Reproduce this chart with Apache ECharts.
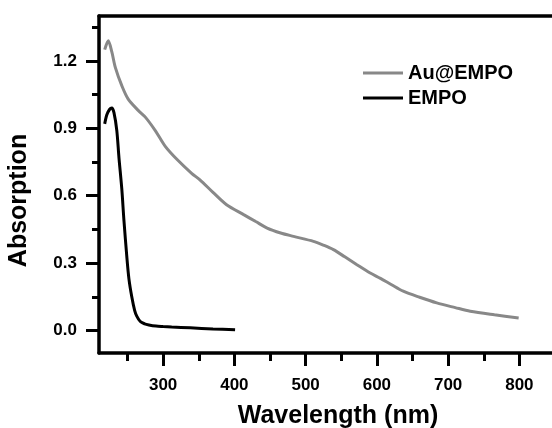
<!DOCTYPE html>
<html>
<head>
<meta charset="utf-8">
<script src="https://cdn.jsdelivr.net/npm/echarts@6/dist/echarts.min.js"></script>
<style>html,body{margin:0;padding:0;background:#fff}#c{width:552px;height:428px}</style>
</head>
<body>
<div id="c"></div>
<script>
var auWavelength = [218, 223, 228, 233, 242, 251, 265, 275, 289, 303, 320, 340, 352, 370, 389, 413, 430, 446, 465, 483, 511, 525, 539, 555, 572, 590, 605, 620, 637, 660, 684, 710, 731, 765, 799];
var auAbsorption = [1.25, 1.29, 1.24, 1.17, 1.09, 1.03, 0.98, 0.95, 0.89, 0.82, 0.76, 0.70, 0.67, 0.615, 0.56, 0.516, 0.485, 0.456, 0.434, 0.419, 0.397, 0.38, 0.36, 0.328, 0.293, 0.257, 0.232, 0.205, 0.175, 0.148, 0.123, 0.102, 0.086, 0.07, 0.056];
var empoWavelength = [218, 221, 225, 228, 231, 235, 238, 242, 245, 249, 252, 256, 260, 263, 268, 274, 280, 290, 300, 312, 338, 370, 401];
var empoAbsorption = [0.92, 0.96, 0.985, 0.99, 0.97, 0.89, 0.77, 0.63, 0.49, 0.33, 0.23, 0.15, 0.09, 0.064, 0.04, 0.03, 0.025, 0.02, 0.018, 0.016, 0.012, 0.007, 0.003];
var xMajorTicks = [300, 400, 500, 600, 700, 800];
var xMinorTicks = [250, 350, 450, 550, 650, 750];
var yMajorTicks = [0.0, 0.3, 0.6, 0.9, 1.2];
var yMinorTicks = [0.15, 0.45, 0.75, 1.05, 1.35];
var seriesNames = ['Au@EMPO', 'EMPO'];

function pairs(xs, ys) { return xs.map(function (x, i) { return [x, ys[i]]; }); }

var FONT = 'Liberation Sans, Arial, sans-serif';
var X_MIN = 210, X_MAX = 850, Y_MIN = -0.1, Y_MAX = 1.4;

var chart = echarts.init(document.getElementById('c'), null, {renderer: 'canvas'});
chart.setOption({
  animation: false,
  backgroundColor: '#fff',
  grid: {left: 99, top: 16, right: -3, bottom: 75, containLabel: false, outerBoundsMode: 'none'},
  legend: {
    data: [
      {name: seriesNames[0], icon: 'rect', itemStyle: {color: '#888888'}},
      {name: seriesNames[1], icon: 'rect', itemStyle: {color: '#000000'}}
    ],
    orient: 'vertical',
    left: 358, top: 58,
    itemWidth: 40, itemHeight: 3, itemGap: 5,
    textStyle: {fontFamily: FONT, fontWeight: 'bold', fontSize: 20, color: '#000'}
  },
  xAxis: [
    {
      type: 'value', min: X_MIN, max: X_MAX, position: 'bottom',
      name: 'Wavelength (nm)', nameLocation: 'middle', nameGap: 51,
      nameTextStyle: {fontFamily: FONT, fontWeight: 'bold', fontSize: 25, color: '#000', padding: [0, 0, 0, 22]},
      axisLine: {onZero: false, lineStyle: {color: '#000', width: 3.5}},
      axisTick: {show: true, inside: false, length: 13, customValues: xMajorTicks, lineStyle: {color: '#000', width: 3}},
      axisLabel: {customValues: xMajorTicks, margin: 24, fontFamily: FONT, fontWeight: 'bold', fontSize: 17, color: '#000'},
      splitLine: {show: false}
    },
    {
      type: 'value', min: X_MIN, max: X_MAX, position: 'top',
      axisLine: {show: true, onZero: false, lineStyle: {color: '#000', width: 3.5}},
      axisTick: {show: false}, axisLabel: {show: false}, splitLine: {show: false}
    },
    {
      type: 'value', min: X_MIN, max: X_MAX, position: 'bottom',
      axisLine: {show: false, onZero: false},
      axisTick: {show: true, inside: false, length: 8, customValues: xMinorTicks, lineStyle: {color: '#000', width: 3}},
      axisLabel: {show: false}, splitLine: {show: false}
    }
  ],
  yAxis: [
    {
      type: 'value', min: Y_MIN, max: Y_MAX, position: 'left',
      name: 'Absorption', nameLocation: 'middle', nameGap: 67,
      nameTextStyle: {fontFamily: FONT, fontWeight: 'bold', fontSize: 25, color: '#000', padding: [0, 32, 0, 0]},
      axisLine: {show: true, onZero: false, lineStyle: {color: '#000', width: 3.5}},
      axisTick: {show: true, inside: false, length: 13, customValues: yMajorTicks, lineStyle: {color: '#000', width: 3}},
      axisLabel: {customValues: yMajorTicks, margin: 22, fontFamily: FONT, fontWeight: 'bold', fontSize: 17, color: '#000',
        formatter: function (v) { return v.toFixed(1); }},
      splitLine: {show: false}
    },
    {
      type: 'value', min: Y_MIN, max: Y_MAX, position: 'left',
      axisLine: {show: false, onZero: false},
      axisTick: {show: true, inside: false, length: 7, customValues: yMinorTicks, lineStyle: {color: '#000', width: 3}},
      axisLabel: {show: false}, splitLine: {show: false}
    }
  ],
  series: [
    {
      name: seriesNames[0], type: 'line', xAxisIndex: 0, yAxisIndex: 0,
      data: pairs(auWavelength, auAbsorption), smooth: 0.3, symbol: 'none',
      lineStyle: {color: '#888888', width: 3}, itemStyle: {color: '#888888'}
    },
    {
      name: seriesNames[1], type: 'line', xAxisIndex: 0, yAxisIndex: 0,
      data: pairs(empoWavelength, empoAbsorption), smooth: 0.3, symbol: 'none',
      lineStyle: {color: '#000000', width: 3}, itemStyle: {color: '#000000'}
    }
  ]
});
</script>
</body>
</html>
